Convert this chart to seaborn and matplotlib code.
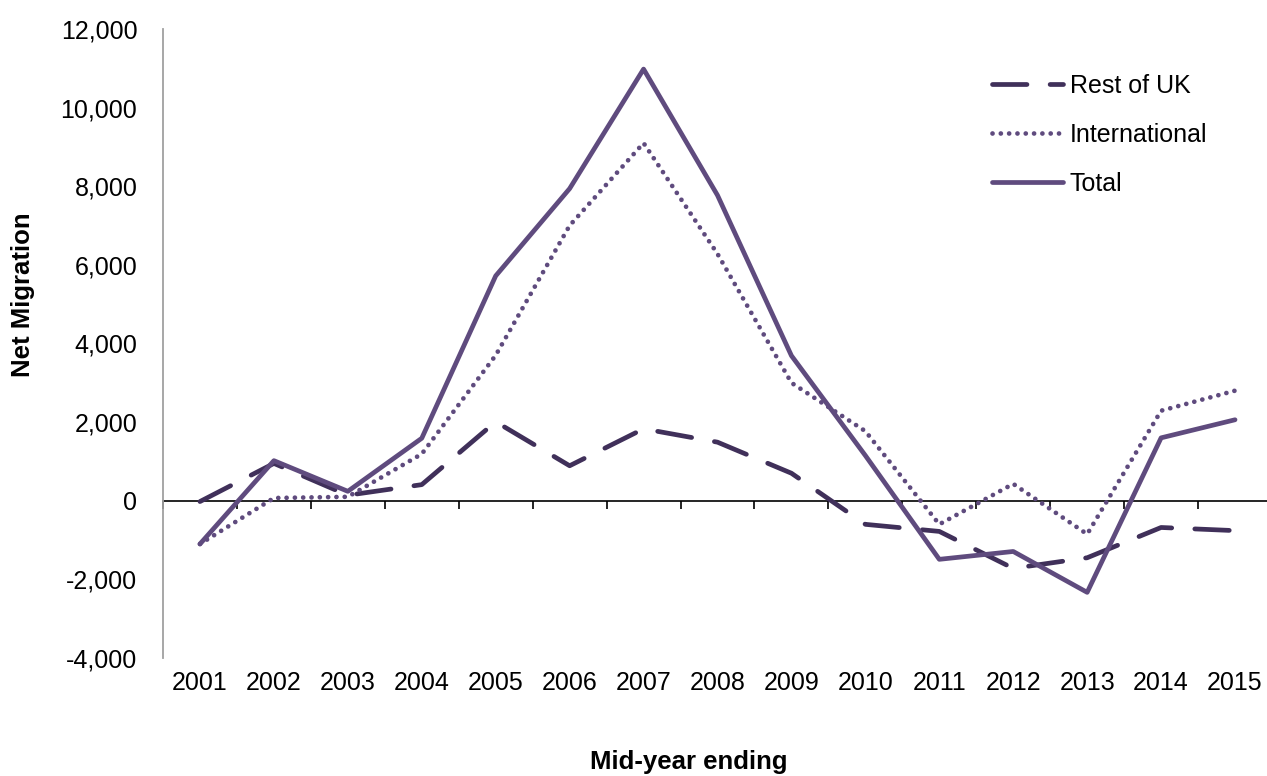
import numpy as np
import pandas as pd
import seaborn as sns
import matplotlib
matplotlib.use("Agg")
import matplotlib.pyplot as plt
from matplotlib.ticker import FuncFormatter

# ---- data ----
years = list(range(2001, 2016))
rest_of_uk = [-20, 950, 140, 410, 2010, 890, 1830, 1490, 700, -600, -780, -1720, -1450, -680, -760]
international = [-1100, 70, 100, 1190, 3700, 7000, 9100, 6280, 3000, 1770, -600, 430, -850, 2290, 2800]
total = [-1100, 1020, 240, 1590, 5720, 7940, 10980, 7770, 3690, 1150, -1490, -1290, -2330, 1600, 2060]
series_names = ["Rest of UK", "International", "Total"]

sns.set_style("white")
plt.rcParams["font.family"] = ["Liberation Sans", "DejaVu Sans"]
plt.rcParams["text.color"] = "black"
plt.rcParams["axes.labelcolor"] = "black"
plt.rcParams["xtick.color"] = "black"
plt.rcParams["ytick.color"] = "black"

W, H = 1267, 776
fig = plt.figure(figsize=(W / 100, H / 100), dpi=100)
left, right, top, bottom = 163, 1272, 29, 658
ax = fig.add_axes([left / W, 1 - bottom / H, (right - left) / W, (bottom - top) / H])

c_ruk = "#40305A"
c_int = "#5F4B7E"
c_tot = "#5F4B7E"
lw = 3.4

sns.lineplot(x=years, y=rest_of_uk, ax=ax, color=c_ruk, linewidth=lw, label=series_names[0])
l1 = ax.lines[-1]
l1.set_dashes((7.3, 4.9))
l1.set_dash_capstyle("round")

sns.lineplot(x=years, y=international, ax=ax, color=c_int, linewidth=lw, label=series_names[1])
l2 = ax.lines[-1]
l2.set_dashes((0.01, 1.75))
l2.set_dash_capstyle("round")

sns.lineplot(x=years, y=total, ax=ax, color=c_tot, linewidth=lw, label=series_names[2])
l3 = ax.lines[-1]
l3.set_solid_capstyle("round")

ax.set_xlim(2000.5, 2015.5)
ax.set_ylim(-4000, 12000)
ax.set_yticks(np.arange(-4000, 12001, 2000))
ax.yaxis.set_major_formatter(FuncFormatter(lambda v, p: f"{int(v):,}"))
ax.set_xticks(years)
ax.set_xticklabels([str(y) for y in years])
ax.tick_params(axis="x", length=0, pad=9, labelsize=18, colors="black")
ax.tick_params(axis="y", length=0, pad=18.5, labelsize=18, colors="black")
ax.set_xlabel("")
ax.set_ylabel("")

for s in ["top", "right", "bottom"]:
    ax.spines[s].set_visible(False)
ax.spines["left"].set_color("#A0A0A0")
ax.spines["left"].set_linewidth(1.3)

# zero line with category-boundary ticks
sec = ax.secondary_xaxis(0.25)
sec.set_xticks(np.arange(2000.5, 2016, 1.0))
sec.tick_params(axis="x", length=5.5, width=1.2, direction="out", color="black", labelbottom=False, labeltop=False)
for s in sec.spines.values():
    s.set_color("black")
    s.set_linewidth(1.2)

leg = ax.legend(
    loc="upper left",
    bbox_to_anchor=(992 / W, 1 - 74 / H),
    bbox_transform=fig.transFigure,
    frameon=False,
    fontsize=18,
    handlelength=2.84,
    handletextpad=0.28,
    labelspacing=1.0,
    borderpad=0,
    borderaxespad=0,
)
for t in leg.get_texts():
    t.set_color("black")

fig.text(23 / W, 1 - 295 / H, "Net Migration", rotation=90, ha="center", va="center",
         fontsize=18.5, fontweight="bold", color="black")
fig.text(689 / W, 1 - 762 / H, "Mid-year ending", ha="center", va="center",
         fontsize=18.5, fontweight="bold", color="black")

fig.savefig("out.png", dpi=100)
